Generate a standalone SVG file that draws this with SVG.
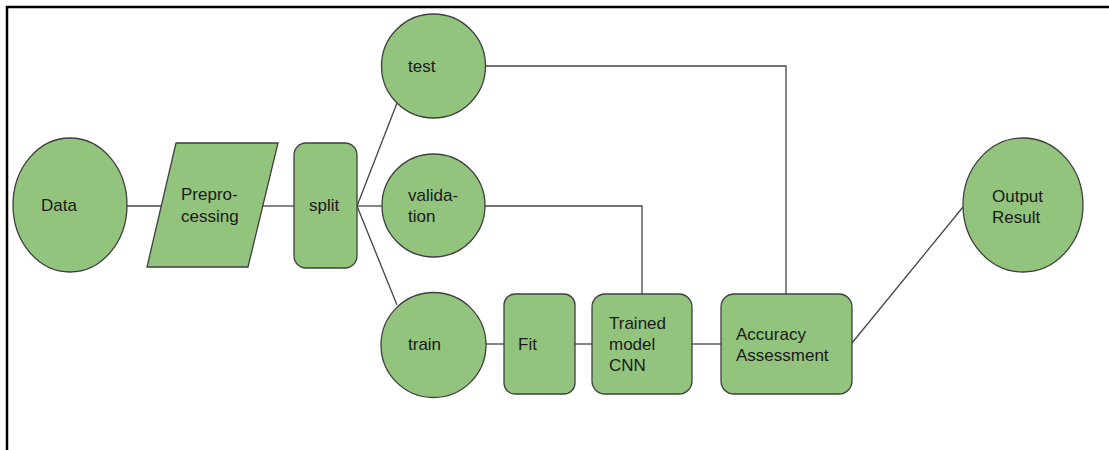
<svg xmlns="http://www.w3.org/2000/svg" width="1109" height="450" viewBox="0 0 1109 450">
<style>
.n{fill:#93c47d;stroke:#3f3f3f;stroke-width:1.3}
.c{fill:none;stroke:#444;stroke-width:1.3}
.t{font-family:"Liberation Sans",Arial,sans-serif;font-size:17px;fill:#1a1a1a}
</style>
<rect width="1109" height="450" fill="#fff"/>
<path d="M7,450 V7 H1109" fill="none" stroke="#000" stroke-width="2.5"/>
<g id="connectors">
<line class="c" x1="127" y1="206" x2="162" y2="206"/>
<line class="c" x1="263" y1="206" x2="294" y2="206"/>
<line class="c" x1="357" y1="206" x2="397" y2="103"/>
<line class="c" x1="357" y1="206" x2="383" y2="206"/>
<line class="c" x1="357" y1="206" x2="397" y2="305"/>
<polyline class="c" points="485,66 786,66 786,294"/>
<polyline class="c" points="484,206 642,206 642,294"/>
<line class="c" x1="485" y1="344" x2="504" y2="344"/>
<line class="c" x1="575" y1="344" x2="592" y2="344"/>
<line class="c" x1="692" y1="344" x2="721" y2="344"/>
<line class="c" x1="852" y1="343" x2="963" y2="207"/>
</g>
<g id="data"><ellipse class="n" cx="70" cy="205" rx="57" ry="67"/><text class="t" x="41" y="211">Data</text></g>
<g id="preprocessing"><polygon class="n" points="176,143 278,143 248,267 147,267"/><text class="t" x="181" y="200">Prepro-</text><text class="t" x="181" y="222">cessing</text></g>
<g id="split"><rect class="n" x="294" y="143" width="63" height="125" rx="12"/><text class="t" x="309" y="211">split</text></g>
<g id="test"><circle class="n" cx="433.5" cy="66" r="52"/><text class="t" x="408" y="72">test</text></g>
<g id="validation"><circle class="n" cx="433.5" cy="205.5" r="51.5"/><text class="t" x="408" y="201">valida-</text><text class="t" x="408" y="222">tion</text></g>
<g id="train"><circle class="n" cx="433.5" cy="345" r="52.5"/><text class="t" x="408" y="350">train</text></g>
<g id="fit"><rect class="n" x="504" y="294" width="71" height="100" rx="11"/><text class="t" x="518" y="350">Fit</text></g>
<g id="trained"><rect class="n" x="592" y="294" width="100" height="100" rx="13"/><text class="t" x="609" y="329">Trained</text><text class="t" x="609" y="350">model</text><text class="t" x="609" y="371">CNN</text></g>
<g id="accuracy"><rect class="n" x="721" y="294" width="131" height="100" rx="13"/><text class="t" x="736" y="340">Accuracy</text><text class="t" x="736" y="361">Assessment</text></g>
<g id="output"><ellipse class="n" cx="1023" cy="205" rx="60" ry="67"/><text class="t" x="992" y="202">Output</text><text class="t" x="992" y="223">Result</text></g>
</svg>
